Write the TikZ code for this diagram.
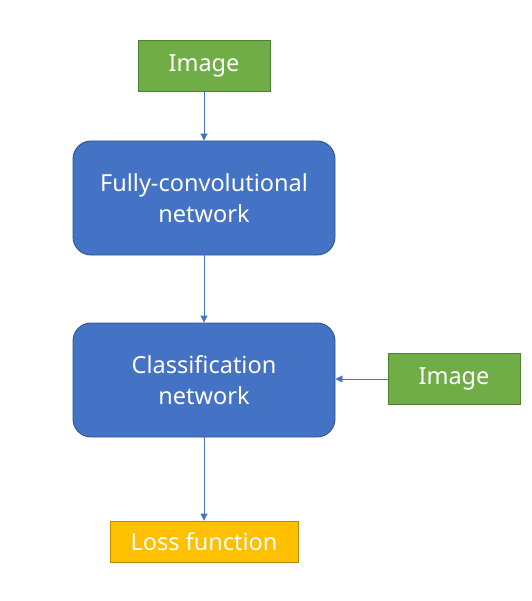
\documentclass[tikz,border=0pt]{standalone}
\usepackage{fontspec}
\setmainfont{Noto Sans}
\usetikzlibrary{arrows.meta}
\definecolor{bluefill}{HTML}{4472C4}
\definecolor{blueline}{HTML}{2F528F}
\definecolor{greenfill}{HTML}{70AD47}
\definecolor{greenline}{HTML}{507E32}
\definecolor{orangefill}{HTML}{FFC000}
\definecolor{orangeline}{HTML}{BC8C00}
\tikzset{
  x=1pt, y=-1pt,
  base/.style={inner sep=0pt, font=\fontsize{23.5}{31}\selectfont, text=white, align=center, line width=0.9pt},
  netbox/.style={base, fill=bluefill, draw=blueline, rounded corners=18pt, minimum width=262pt, minimum height=114pt},
  imgbox/.style={base, fill=greenfill, draw=greenline, minimum width=132pt, minimum height=51pt},
  lossbox/.style={base, fill=orangefill, draw=orangeline, minimum width=188pt, minimum height=41pt},
  conn/.style={draw=bluefill, line width=0.9pt, -{Triangle[width=7pt,length=7pt]}}
}
\begin{document}
\begin{tikzpicture}
\useasboundingbox (0,0) rectangle (531,601);
\node[imgbox] (img1) at (204,65.5) {Image};
\node[netbox] (fcn) at (204,198) {Fully-convolutional\\network};
\node[netbox] (cls) at (204,380) {Classification\\network};
\node[imgbox] (img2) at (454,379) {Image};
\node[lossbox] (loss) at (204,541.5) {Loss function};
\draw[conn] (img1) -- (fcn);
\draw[conn] (fcn) -- (cls);
\draw[conn] (img2.west) -- (img2.west -| cls.east);
\draw[conn] (cls) -- (loss);
\end{tikzpicture}
\end{document}
